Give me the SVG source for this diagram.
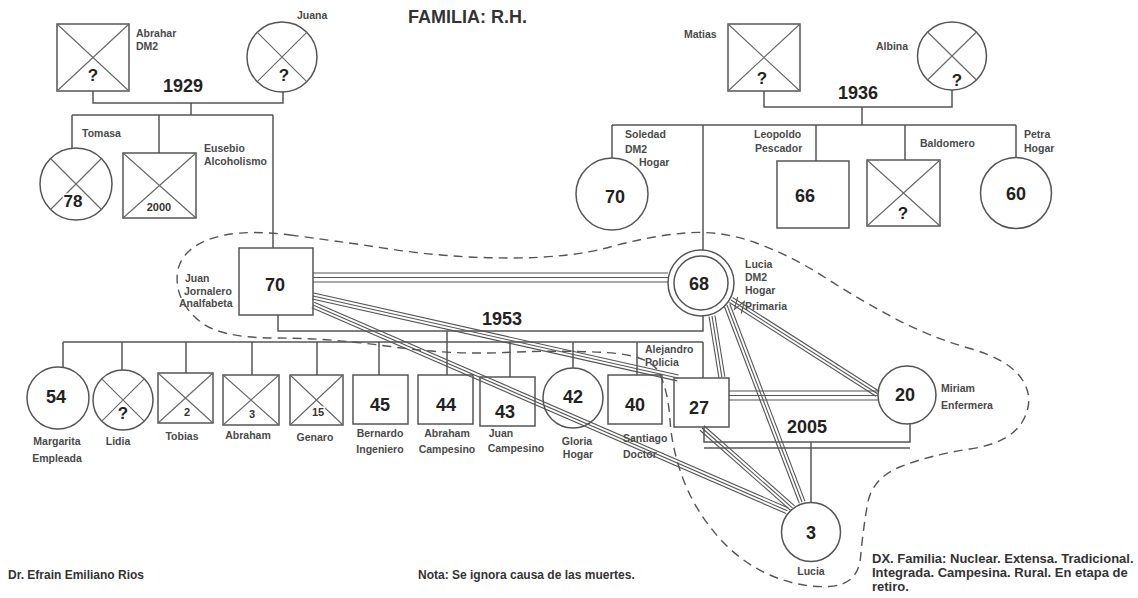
<svg xmlns="http://www.w3.org/2000/svg" width="1138" height="598" viewBox="0 0 1138 598">
<style>
.ln{stroke:#555;stroke-width:1.5;fill:none}
.sh{stroke:#555;stroke-width:1.5;fill:#fff}
.x{stroke:#666;stroke-width:1.1;fill:none}
.rl line{stroke:#555;stroke-width:1.1}
.rl path{stroke:#555;stroke-width:1.1;fill:none}
.bd{stroke:#555;stroke-width:1.4;fill:none;stroke-dasharray:9 6}
text{font-family:"Liberation Sans",Arial,sans-serif;font-weight:bold}
.lb{font-size:10.5px;fill:#4a4a4a}
.c{text-anchor:middle}
.n{font-size:18px;fill:#222;text-anchor:middle}
.q{font-size:17px;fill:#222;text-anchor:middle;stroke:#fff;stroke-width:3;paint-order:stroke}
.s{font-size:11px;fill:#333;text-anchor:middle;stroke:#fff;stroke-width:3;paint-order:stroke}
.yr{font-size:18px;fill:#222;text-anchor:middle}
.ft{font-size:12px;fill:#333}
.dx{font-size:13px;fill:#333}
</style>
<rect width="1138" height="598" fill="#fff"/>
<text x="408" y="23" style="font-size:18px;fill:#333">FAMILIA: R.H.</text>

<g id="connectors">
<path class="ln" d="M93,91V103H283V92M191,103V115M72,115H273M72,115V148M159,115V153M273,115V248"/>
<path class="ln" d="M764,91V107H952V90M862,107V125M612,125H1016M612,125V158M703,125V250M816,125V161M905,125V160M1016,125V158"/>
<path class="ln" d="M278,315V331H703V316M447,331V375M63,342H703M63,342V367M122,342V370M186,342V373M252,342V375M317,342V375M379,342V375M510,342V377M573,342V368M637,342V375M703,342V378"/>
<path class="ln" d="M704,427V442H910V424M704,448H910M811,442V502"/>
<text class="yr" x="183" y="92">1929</text>
<text class="yr" x="858" y="99">1936</text>
<text class="yr" x="502" y="325">1953</text>
<text class="yr" x="807" y="433">2005</text>
</g>

<g id="abrahar"><rect class="sh" x="57" y="24" width="72" height="67"/><path class="x" d="M57,24L129,91M129,24L57,91"/><text class="q" x="93" y="81">?</text><text class="lb" x="136" y="37">Abrahar</text><text class="lb" x="136" y="50">DM2</text></g>
<g id="juana"><circle class="sh" cx="282" cy="57" r="35"/><path class="x" d="M257.3,32.3L306.7,81.7M306.7,32.3L257.3,81.7"/><text class="q" x="284" y="81">?</text><text class="lb" x="297" y="19">Juana</text></g>
<g id="matias"><rect class="sh" x="728" y="24" width="72" height="67"/><path class="x" d="M728,24L800,91M800,24L728,91"/><text class="q" x="762" y="84">?</text><text class="lb" x="684" y="38">Matias</text></g>
<g id="albina"><ellipse class="sh" cx="952" cy="56" rx="34.5" ry="34"/><path class="x" d="M927.6,32L976.4,80M976.4,32L927.6,80"/><text class="q" x="957" y="86">?</text><text class="lb" x="876" y="50">Albina</text></g>

<g id="tomasa"><circle class="sh" cx="76" cy="184" r="36"/><path class="x" d="M50.5,158.5L101.5,209.5M101.5,158.5L50.5,209.5"/><text class="q" x="73" y="207">78</text><text class="lb" x="82" y="137">Tomasa</text></g>
<g id="eusebio"><rect class="sh" x="123" y="153" width="73" height="65"/><path class="x" d="M123,153L196,218M196,153L123,218"/><text class="s" x="159" y="211">2000</text><text class="lb" x="204" y="152">Eusebio</text><text class="lb" x="204" y="165">Alcoholismo</text></g>
<g id="juan"><rect class="sh" x="239" y="248" width="74" height="67"/><text class="n" x="275" y="291">70</text><text class="lb" x="185" y="282">Juan</text><text class="lb" x="184" y="295">Jornalero</text><text class="lb" x="179" y="307">Analfabeta</text></g>
<g id="soledad"><circle class="sh" cx="612" cy="194" r="36"/><text class="n" x="615" y="203">70</text><text class="lb" x="625" y="138">Soledad</text><text class="lb" x="625" y="153">DM2</text><text class="lb" x="639" y="166">Hogar</text></g>
<g id="lucia"><circle class="sh" cx="701" cy="283" r="33"/><circle class="sh" cx="701" cy="283" r="27"/><text class="n" x="699" y="290">68</text><text class="lb" x="745" y="268">Lucia</text><text class="lb" x="745" y="281">DM2</text><text class="lb" x="745" y="294">Hogar</text><text class="lb" x="745" y="310">Primaria</text></g>
<g id="leopoldo"><rect class="sh" x="777" y="161" width="72" height="67"/><text class="n" x="805" y="202">66</text><text class="lb" x="754" y="138">Leopoldo</text><text class="lb" x="755" y="152">Pescador</text></g>
<g id="baldomero"><rect class="sh" x="867" y="160" width="73" height="66"/><path class="x" d="M867,160L940,226M940,160L867,226"/><text class="q" x="903" y="219">?</text><text class="lb" x="920" y="147">Baldomero</text></g>
<g id="petra"><circle class="sh" cx="1016" cy="193" r="35.5"/><text class="n" x="1016" y="200">60</text><text class="lb" x="1024" y="138">Petra</text><text class="lb" x="1024" y="152">Hogar</text></g>

<g id="margarita"><circle class="sh" cx="58" cy="398" r="31"/><text class="n" x="56" y="403">54</text><text class="lb c" x="57" y="445">Margarita</text><text class="lb c" x="57" y="462">Empleada</text></g>
<g id="lidia"><circle class="sh" cx="123" cy="400" r="30"/><path class="x" d="M101.8,378.8L144.2,421.2M144.2,378.8L101.8,421.2"/><text class="q" x="123" y="419">?</text><text class="lb c" x="118" y="445">Lidia</text></g>
<g id="tobias"><rect class="sh" x="158" y="373" width="55" height="50"/><path class="x" d="M158,373L213,423M213,373L158,423"/><text class="s" x="187" y="416">2</text><text class="lb c" x="182" y="440">Tobias</text></g>
<g id="abraham"><rect class="sh" x="223" y="375" width="56" height="50"/><path class="x" d="M223,375L279,425M279,375L223,425"/><text class="s" x="252" y="418">3</text><text class="lb c" x="248" y="439">Abraham</text></g>
<g id="genaro"><rect class="sh" x="290" y="375" width="53" height="50"/><path class="x" d="M290,375L343,425M343,375L290,425"/><text class="s" x="318" y="416">15</text><text class="lb c" x="315" y="441">Genaro</text></g>
<g id="bernardo"><rect class="sh" x="353" y="375" width="55" height="49"/><text class="n" x="380" y="411">45</text><text class="lb c" x="380" y="437">Bernardo</text><text class="lb c" x="380" y="453">Ingeniero</text></g>
<g id="abraham44"><rect class="sh" x="418" y="375" width="55" height="49"/><text class="n" x="446" y="411">44</text><text class="lb c" x="447" y="437">Abraham</text><text class="lb c" x="447" y="453">Campesino</text></g>
<g id="juan43"><rect class="sh" x="480" y="377" width="55" height="49"/><text class="n" x="505" y="418">43</text><text class="lb c" x="501" y="437">Juan</text><text class="lb c" x="516" y="452">Campesino</text></g>
<g id="gloria"><circle class="sh" cx="573" cy="398" r="30"/><text class="n" x="573" y="403">42</text><text class="lb c" x="577" y="445">Gloria</text><text class="lb c" x="578" y="458">Hogar</text></g>
<g id="santiago"><rect class="sh" x="608" y="375" width="54" height="49"/><text class="n" x="635" y="411">40</text><text class="lb" x="645" y="353">Alejandro</text><text class="lb" x="645" y="366">Policia</text><text class="lb" x="623" y="442">Santiago</text><text class="lb" x="623" y="458">Doctor</text></g>
<g id="hijo27"><rect class="sh" x="674" y="378" width="55" height="49"/><text class="n" x="699" y="414">27</text></g>
<g id="miriam"><circle class="sh" cx="907" cy="395" r="29"/><text class="n" x="905" y="401">20</text><text class="lb" x="941" y="392">Miriam</text><text class="lb" x="941" y="409">Enfermera</text></g>
<g id="lucia3"><circle class="sh" cx="811" cy="532" r="29.5"/><text class="n" x="811" y="539">3</text><text class="lb c" x="811" y="575">Lucia</text></g>

<g id="relations" class="rl">
<line x1="313" y1="273" x2="668" y2="273"/><line x1="313" y1="277.5" x2="668" y2="277.5"/><line x1="313" y1="282" x2="668" y2="282"/>
<line x1="729" y1="391" x2="878" y2="391"/><line x1="729" y1="395.5" x2="878" y2="395.5"/><line x1="729" y1="400" x2="878" y2="400"/>
<g transform="translate(313,296) rotate(12.66)"><line y1="-3" x2="374" y2="-3"/><line x2="374"/><line y1="3" x2="374" y2="3"/></g>
<g transform="translate(313,305) rotate(23.45)"><line y1="-3" x2="517" y2="-3"/><line x2="517"/><line y1="3" x2="517" y2="3"/></g>
<g transform="translate(712,316) rotate(80.84)"><line y1="-3" x2="62" y2="-3"/><line x2="62"/><line y1="3" x2="62" y2="3"/></g>
<g transform="translate(727,305) rotate(69.16)"><line y1="-3" x2="211" y2="-3"/><line x2="211"/><line y1="3" x2="211" y2="3"/></g>
<g transform="translate(702,428) rotate(41.51)"><line y1="-3" x2="121" y2="-3"/><line x2="121"/><line y1="3" x2="121" y2="3"/></g>
<g transform="translate(731,300) rotate(32.6)"><line y1="-3" x2="174" y2="-3"/><line x2="174"/><line y1="3" x2="174" y2="3"/><path d="M4,-6L8,6L12,-6L16,6"/></g>
</g>

<path id="boundary" class="bd" d="M290,235 Q330,240 390,249 Q450,258 510,258 Q570,258 610,247 Q650,236 685,233 Q720,230 755,242.5 Q790,255 825,277.5 Q860,300 895,318.5 Q930,337 970,348.5 Q1010,360 1022.5,380 Q1035,400 1022.5,421.5 Q1010,443 970,449 Q930,455 901,466.5 Q872,478 867.5,504 Q863,530 860.5,557.5 Q858,585 829,586.5 Q800,588 770,575 Q740,562 717.5,536 Q695,510 683.5,480 Q672,450 670,420 Q668,390 659,372.5 Q650,355 605,352.5 Q560,350 505,352.5 Q450,355 390,346.5 Q330,338 275,338 Q220,338 200,321.5 Q180,305 177.5,285 Q175,265 187.5,252.5 Q200,240 225,235 Q250,230 290,235 Z"/>

<g id="notes">
<text class="dx" x="872" y="563">DX. Familia: Nuclear. Extensa. Tradicional.</text>
<text class="dx" x="872" y="577">Integrada. Campesina. Rural. En etapa de</text>
<text class="dx" x="872" y="591">retiro.</text>
<text class="ft" x="8" y="579">Dr. Efrain Emiliano Rios</text>
<text class="ft" x="418" y="579">Nota: Se ignora causa de las muertes.</text>
</g>
</svg>
